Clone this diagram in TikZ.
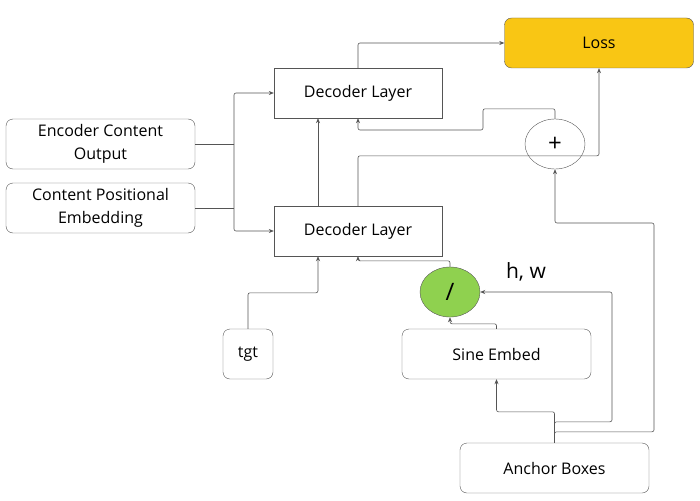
\documentclass[tikz,border=0pt]{standalone}
\usepackage{fontspec}
\setmainfont{Open Sans}
\usetikzlibrary{arrows.meta}
\usetikzlibrary{shapes.geometric}

\definecolor{lossyellow}{HTML}{F9C614}
\definecolor{divgreen}{HTML}{8FD14F}
\definecolor{edgegray}{HTML}{555555}

\tikzset{
  block/.style={draw=edgegray, rounded corners=7pt, minimum width=189pt, minimum height=50pt,
    align=center, text=black, font=\fontsize{16}{23}\selectfont},
  layer/.style={draw=edgegray, minimum width=168pt, minimum height=50pt,
    text=black, font=\fontsize{16}{20}\selectfont},
  op/.style={ellipse, draw=edgegray, minimum width=60pt, minimum height=50pt, inner sep=0pt,
    font=\fontsize{24}{24}\selectfont},
  link/.style={draw=edgegray, line width=0.6pt, rounded corners=2pt,
    -{Stealth[length=5pt,width=4pt]}},
  plain/.style={draw=edgegray, line width=0.6pt, rounded corners=2pt},
}

\begin{document}
\begin{tikzpicture}[x=1pt, y=-1pt]
\useasboundingbox (0,0) rectangle (700,500);
\node[block, fill=lossyellow] (loss) at (599,43) {Loss};
\node[layer] (dectop) at (358,93) {Decoder Layer};
\node[layer] (decbot) at (358,231) {Decoder Layer};
\node[block] (encout) at (100.5,144) {Encoder Content\\Output};
\node[block] (contpos) at (100.5,208) {Content Positional\\Embedding};
\node[block, minimum width=50pt] (tgt) at (248,354) {tgt};
\node[block] (sine) at (496.5,354) {Sine Embed};
\node[block] (anchor) at (554.5,468) {Anchor Boxes};
\node[op] (plus) at (555,144) {+};
\node[op, fill=divgreen] (divide) at (450,292) {/};
\node[font=\fontsize{21}{21}\selectfont, text=black] (hw) at (526,272) {h, w};

\coordinate (merge) at (234,144);
\draw[plain] (encout.east) -- (merge);
\draw[plain] (contpos.east) -- (contpos.east -| merge);
\draw[link] (merge) |- (dectop.west);
\draw[link] (merge) |- (decbot.west);

\draw[link] ([xshift=-40pt]decbot.north) -- ([xshift=-40pt]dectop.south);
\draw[link] (decbot.north) -- ++(0,-50) -| (loss.south);
\draw[link] (dectop.north) |- (loss.west);
\draw[link] (plus.north) -- ++(0,-10) -| (483,130) -| (dectop.south);

\draw[link] (anchor.north) -- ++(0,-11) -| (654,223) -| (plus.south);
\draw[link] (anchor.north) -- ++(0,-21) -| (612,292) -- (divide.east);
\draw[link] (anchor.north) -- ++(0,-31) -| (sine.south);
\draw[link] (sine.north) -- ++(0,-5) -| (divide.south);
\draw[link] (divide.north) -- ++(0,-6) -| (decbot.south);
\draw[link] (tgt.north) -- ++(0,-36) -| ([xshift=-40pt]decbot.south);
\end{tikzpicture}
\end{document}
